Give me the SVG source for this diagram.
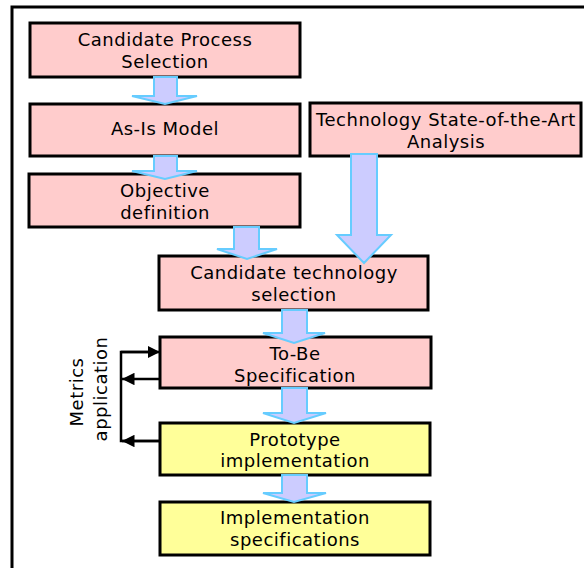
<svg xmlns="http://www.w3.org/2000/svg" width="584" height="568" viewBox="0 0 584 568">
<defs>
<style>
.pink{fill:#ffcccc;stroke:#000;stroke-width:3}
.yel{fill:#ffff99;stroke:#000;stroke-width:3}
.blk{fill:#ccccff;stroke:#66ccff;stroke-width:2;stroke-linejoin:miter}
.t{font-family:"DejaVu Sans",sans-serif;font-size:18px;letter-spacing:0.5px;text-anchor:middle;fill:#000}
.ln{fill:none;stroke:#000;stroke-width:2.5}
</style>
<marker id="ah" viewBox="0 0 10 10" refX="10" refY="5" markerWidth="5" markerHeight="5" orient="auto" markerUnits="strokeWidth">
<path d="M0,0 L10,5 L0,10 Z" fill="#000"/>
</marker>
</defs>
<rect width="584" height="568" fill="#fff"/>
<rect x="12" y="7" width="620" height="620" fill="none" stroke="#000" stroke-width="3"/>

<g id="n1"><rect class="pink" x="30" y="23" width="270" height="54"/>
<text class="t" x="165" y="46">Candidate Process</text><text class="t" x="165" y="68">Selection</text></g>
<g id="n2"><rect class="pink" x="30" y="104" width="270" height="52"/>
<text class="t" x="165" y="135">As-Is Model</text></g>
<g id="n3"><rect class="pink" x="29" y="174" width="271" height="53"/>
<text class="t" x="165" y="197">Objective</text><text class="t" x="165" y="219">definition</text></g>
<g id="n4"><rect class="pink" x="310" y="103" width="271" height="53"/>
<text class="t" x="446" y="126">Technology State-of-the-Art</text><text class="t" x="446" y="148">Analysis</text></g>
<g id="n5"><rect class="pink" x="159" y="256" width="269" height="54"/>
<text class="t" x="294" y="279">Candidate technology</text><text class="t" x="294" y="301">selection</text></g>
<g id="n6"><rect class="pink" x="160" y="337" width="271" height="51"/>
<text class="t" x="295" y="360">To-Be</text><text class="t" x="295" y="382">Specification</text></g>
<g id="n7"><rect class="yel" x="160" y="423" width="270" height="52"/>
<text class="t" x="295" y="446">Prototype</text><text class="t" x="295" y="467">implementation</text></g>
<g id="n8"><rect class="yel" x="160" y="502" width="270" height="53"/>
<text class="t" x="295" y="524">Implementation</text><text class="t" x="295" y="546">specifications</text></g>
<g id="label">
<text class="t" transform="translate(83,392) rotate(-90)">Metrics</text>
<text class="t" transform="translate(107,389) rotate(-90)">application</text>
</g>

<g id="connectors">
<path class="blk" d="M154,77 H177 V96 H197 L165,104 L132,96 H154 Z"/>
<path class="blk" d="M154,156 H177 V171 H197 L165,179 L132,171 H154 Z"/>
<path class="blk" d="M234,227 H259 V249 H277 L247,259 L217,249 H234 Z"/>
<path class="blk" d="M351,154 H377 V235 H391 L364,263 L337,235 H351 Z"/>
<path class="blk" d="M282,310 H307 V333 H325 L294,343 L263,333 H282 Z"/>
<path class="blk" d="M282,388 H307 V413 H326 L294,423 L263,413 H282 Z"/>
<path class="blk" d="M282,475 H307 V493 H326 L294,502 L263,493 H282 Z"/>
<path class="ln" d="M160,441 H121 V352 H150"/>
<path class="ln" d="M121,352 H160" marker-end="url(#ah)"/>
<path class="ln" d="M160,379 H122" marker-end="url(#ah)"/>
<path class="ln" d="M160,441 H122" marker-end="url(#ah)"/>
</g>
</svg>
